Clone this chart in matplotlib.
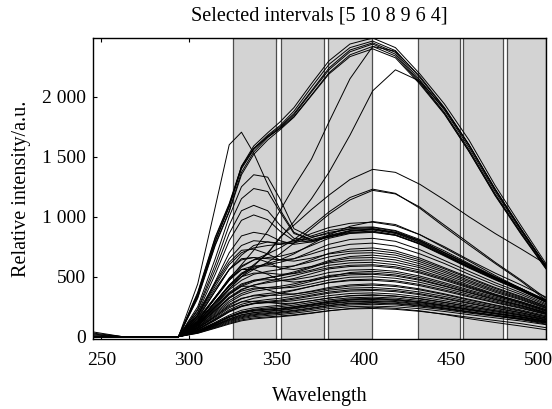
import numpy as np
import matplotlib.pyplot as plt

plt.rcParams['font.family'] = ['Liberation Serif', 'DejaVu Serif']

# wavelength grid (nm)
wavelength = [245, 262, 294, 305, 315, 323, 330, 337, 345, 352, 360, 370,
              380, 392, 405, 418, 432, 446, 460, 475, 490, 504]

# selected intervals (shaded), in nm
intervals = [(325.3, 349.7), (352.6, 377.3), (379.6, 404.4),
             (431.1, 454.9), (456.4, 479.3), (481.6, 504.0)]

# strongest spectra, peak near 405 nm
top_curves = [
    [0, 0, 0, 340, 790, 1090, 1420, 1590, 1700, 1790, 1910, 2110, 2300, 2440, 2490, 2410, 2190, 1940, 1640, 1260, 920, 610],
    [0, 0, 0, 360, 820, 1100, 1410, 1570, 1680, 1760, 1880, 2080, 2270, 2410, 2465, 2385, 2160, 1905, 1600, 1225, 890, 590],
    [0, 0, 0, 350, 800, 1080, 1400, 1560, 1670, 1750, 1860, 2050, 2240, 2390, 2450, 2370, 2140, 1890, 1580, 1210, 880, 585],
    [0, 0, 0, 330, 770, 1050, 1370, 1540, 1660, 1740, 1850, 2040, 2225, 2375, 2440, 2355, 2125, 1870, 1560, 1190, 865, 575],
    [0, 0, 0, 370, 830, 1110, 1420, 1570, 1665, 1735, 1835, 2015, 2200, 2350, 2420, 2340, 2115, 1860, 1545, 1175, 850, 565],
    [0, 0, 0, 320, 760, 1040, 1350, 1520, 1640, 1725, 1830, 2010, 2190, 2335, 2400, 2325, 2105, 1855, 1545, 1180, 855, 570],
    [0, 0, 0, 150, 330, 480, 600, 720, 880, 1050, 1250, 1480, 1790, 2150, 2420, 2380, 2170, 1910, 1600, 1230, 895, 590],
    [0, 0, 0, 120, 280, 400, 500, 590, 700, 820, 960, 1150, 1370, 1680, 2050, 2225, 2130, 1900, 1600, 1230, 890, 590],
]

# medium spectra
mid_curves = [
    [0, 0, 0, 120, 290, 420, 520, 600, 690, 830, 930, 1060, 1180, 1310, 1395, 1370, 1270, 1140, 1000, 860, 730, 605],
    [0, 0, 0, 110, 270, 400, 500, 560, 620, 690, 780, 900, 1020, 1140, 1220, 1190, 1080, 930, 780, 620, 470, 320],
    [0, 0, 0, 130, 320, 470, 580, 640, 690, 740, 810, 920, 1040, 1160, 1230, 1195, 1070, 915, 765, 610, 460, 305],
    [0, 0, 0, 120, 290, 430, 530, 580, 610, 640, 690, 770, 850, 920, 960, 935, 850, 740, 630, 510, 400, 290],
]

# spectra with an early maximum near 330-340 nm
hump_curves = [
    [0, 0, 0, 440, 1080, 1600, 1705, 1530, 1270, 1060, 870, 800, 830, 880, 900, 870, 800, 700, 600, 495, 400, 305],
    [0, 0, 0, 250, 650, 1000, 1250, 1350, 1330, 1150, 900, 830, 860, 900, 910, 880, 800, 700, 600, 495, 400, 305],
    [0, 0, 0, 230, 600, 930, 1150, 1235, 1210, 1040, 860, 810, 845, 885, 895, 865, 790, 690, 590, 490, 395, 300],
    [0, 0, 0, 220, 560, 860, 1050, 1095, 1050, 930, 820, 800, 840, 880, 890, 860, 785, 685, 585, 485, 390, 295],
    [0, 0, 0, 200, 520, 800, 970, 1015, 975, 880, 800, 790, 835, 870, 880, 850, 775, 678, 578, 478, 385, 290],
    [0, 0, 0, 180, 460, 700, 840, 870, 850, 800, 770, 790, 830, 865, 875, 845, 770, 672, 572, 473, 380, 287],
]

# the bulk of the spectra
bulk_curves = [
    [0, 0, 0, 180, 420, 600, 700, 740, 760, 770, 800, 860, 910, 945, 955, 925, 850, 750, 640, 530, 430, 330],
    [0, 0, 0, 160, 380, 560, 680, 760, 790, 780, 790, 840, 885, 910, 915, 885, 810, 715, 610, 500, 400, 300],
    [0, 0, 0, 200, 450, 650, 760, 800, 790, 770, 780, 825, 870, 895, 900, 870, 800, 700, 600, 490, 390, 290],
    [0, 0, 0, 140, 330, 490, 590, 640, 660, 670, 700, 760, 820, 860, 870, 845, 775, 680, 580, 480, 385, 290],
    [0, 0, 0, 120, 290, 430, 520, 570, 600, 620, 650, 710, 770, 810, 820, 795, 725, 635, 545, 450, 365, 275],
    [0, 0, 0, 170, 400, 560, 640, 660, 650, 640, 650, 690, 735, 770, 780, 755, 690, 610, 520, 430, 350, 265],
    [0, 0, 0, 180, 440, 620, 720, 730, 690, 640, 630, 655, 690, 712, 720, 698, 640, 565, 485, 402, 328, 252],
    [0, 0, 0, 110, 260, 390, 470, 520, 545, 560, 590, 640, 695, 730, 740, 715, 655, 575, 495, 410, 335, 255],
    [0, 0, 0, 130, 320, 470, 560, 590, 590, 580, 590, 625, 665, 695, 700, 680, 625, 550, 470, 390, 320, 245],
    [0, 0, 0, 100, 230, 350, 420, 460, 490, 510, 540, 585, 635, 668, 680, 660, 608, 536, 458, 380, 312, 240],
    [0, 0, 0, 100, 240, 360, 430, 470, 490, 505, 530, 575, 625, 655, 660, 640, 590, 520, 445, 370, 305, 235],
    [0, 0, 0, 150, 380, 560, 650, 660, 620, 570, 560, 585, 615, 635, 640, 620, 575, 505, 430, 355, 290, 225],
    [0, 0, 0, 120, 290, 420, 500, 530, 530, 520, 525, 555, 595, 615, 620, 600, 555, 490, 420, 350, 290, 225],
    [0, 0, 0, 90, 210, 320, 390, 430, 460, 485, 510, 545, 575, 595, 600, 583, 540, 480, 413, 345, 283, 218],
    [0, 0, 0, 90, 220, 330, 395, 430, 450, 465, 485, 525, 565, 585, 590, 572, 530, 470, 405, 340, 280, 215],
    [0, 0, 0, 100, 250, 370, 440, 470, 475, 470, 475, 500, 535, 555, 560, 545, 505, 450, 390, 330, 272, 210],
    [0, 0, 0, 80, 190, 285, 345, 378, 395, 405, 425, 462, 500, 535, 545, 530, 492, 438, 380, 320, 262, 203],
    [0, 0, 0, 80, 200, 300, 360, 395, 410, 420, 440, 475, 510, 527, 530, 515, 478, 425, 370, 312, 258, 200],
    [0, 0, 0, 130, 330, 480, 560, 560, 520, 470, 455, 470, 495, 515, 520, 505, 470, 420, 365, 308, 255, 196],
    [0, 0, 0, 90, 220, 320, 380, 405, 410, 405, 412, 440, 472, 495, 500, 487, 453, 405, 352, 298, 247, 192],
    [0, 0, 0, 70, 160, 240, 290, 320, 340, 360, 385, 420, 452, 474, 480, 467, 435, 390, 340, 288, 240, 188],
    [0, 0, 0, 70, 170, 260, 315, 345, 360, 370, 390, 420, 450, 467, 470, 457, 425, 380, 332, 282, 235, 185],
    [0, 0, 0, 75, 180, 270, 320, 340, 345, 345, 355, 380, 410, 432, 440, 428, 398, 357, 312, 265, 222, 175],
    [0, 0, 0, 100, 250, 360, 420, 420, 390, 360, 355, 375, 400, 422, 430, 418, 390, 350, 305, 260, 215, 168],
    [0, 0, 0, 60, 150, 225, 270, 295, 310, 320, 338, 362, 388, 405, 410, 398, 372, 335, 293, 250, 210, 165],
    [0, 0, 0, 60, 140, 210, 255, 280, 295, 305, 322, 347, 372, 390, 395, 385, 358, 322, 282, 240, 200, 157],
    [0, 0, 0, 55, 135, 205, 250, 275, 288, 297, 313, 338, 362, 380, 385, 375, 350, 315, 276, 236, 198, 155],
    [40, 0, 0, 60, 145, 215, 255, 275, 283, 288, 300, 320, 342, 360, 365, 355, 332, 300, 263, 225, 190, 150],
    [0, 0, 0, 70, 170, 250, 290, 295, 285, 275, 280, 300, 322, 342, 350, 340, 318, 287, 252, 216, 182, 143],
    [0, 0, 0, 50, 120, 180, 220, 240, 252, 262, 277, 300, 322, 340, 345, 336, 314, 284, 250, 215, 180, 143],
    [0, 0, 0, 45, 110, 165, 205, 228, 240, 250, 263, 285, 307, 324, 330, 322, 302, 273, 240, 207, 175, 138],
    [0, 0, 0, 45, 110, 165, 200, 218, 228, 236, 250, 272, 296, 314, 320, 312, 292, 263, 230, 196, 162, 122],
    [0, 0, 0, 50, 115, 170, 205, 222, 230, 236, 248, 268, 290, 308, 315, 307, 288, 260, 229, 197, 167, 132],
    [0, 0, 0, 45, 105, 160, 195, 212, 222, 230, 243, 265, 287, 304, 310, 302, 283, 256, 225, 193, 163, 128],
    [30, 0, 0, 40, 95, 145, 180, 200, 213, 223, 237, 258, 278, 294, 300, 293, 275, 249, 219, 189, 160, 127],
    [0, 0, 0, 42, 100, 150, 183, 200, 210, 218, 232, 252, 273, 290, 295, 287, 268, 240, 208, 175, 142, 105],
    [0, 0, 0, 40, 95, 140, 172, 190, 200, 208, 220, 240, 262, 279, 285, 278, 261, 236, 208, 180, 152, 120],
    [0, 0, 0, 38, 90, 135, 165, 183, 193, 202, 215, 236, 258, 274, 280, 273, 256, 232, 204, 176, 148, 116],
    [0, 0, 0, 35, 85, 128, 158, 176, 187, 195, 207, 227, 248, 264, 270, 264, 247, 224, 197, 170, 144, 113],
    [22, 0, 0, 35, 80, 120, 150, 167, 177, 185, 196, 214, 234, 250, 255, 249, 233, 210, 184, 157, 130, 100],
    [15, 0, 0, 28, 70, 105, 132, 148, 158, 166, 177, 195, 215, 235, 245, 236, 215, 185, 150, 118, 88, 58],
    [8, 0, 0, 30, 75, 112, 140, 156, 165, 172, 182, 198, 217, 231, 235, 228, 211, 188, 162, 135, 108, 75],
]

xticks = [250, 300, 350, 400, 450, 500]
yticks = [0, 500, 1000, 1500, 2000]
ytick_labels = ['0', '500', '1 000', '1 500', '2 000']

fig = plt.figure(figsize=(5.52, 4.09), dpi=100)
ax = fig.add_axes([0.168, 0.171, 0.821, 0.736])

for lo, hi in intervals:
    ax.axvspan(lo, hi, facecolor='#d3d3d3', edgecolor='#4d4d4d',
               linewidth=0.9, zorder=3)

for group in (bulk_curves, hump_curves, mid_curves, top_curves):
    for spec in group:
        ax.plot(wavelength, spec, color='black', linewidth=0.7, zorder=4)

ax.set_xlim(245, 504)
ax.set_ylim(-20, 2490)
ax.set_xticks(xticks)
ax.set_yticks(yticks)
ax.set_yticklabels(ytick_labels)
ax.tick_params(axis='both', direction='in', length=3, labelsize=14,
               top=True, right=True, width=0.8)
ax.tick_params(axis='x', pad=9)
ax.tick_params(axis='y', pad=5)
for sp in ax.spines.values():
    sp.set_zorder(6)
    sp.set_linewidth(1.0)

ax.set_title('Selected intervals [5 10 8 9 6 4]', fontsize=14.5, pad=12.5)
ax.set_xlabel('Wavelength', fontsize=14.5, labelpad=13)
ax.set_ylabel('Relative intensity/a.u.', fontsize=14.5, labelpad=8)

fig.savefig('out.png', dpi=100)
